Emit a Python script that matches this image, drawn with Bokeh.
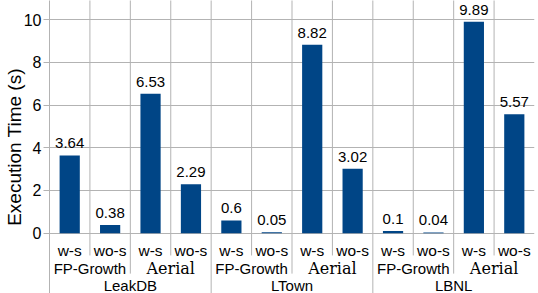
from bokeh.plotting import figure
from bokeh.models import FactorRange, Range1d, ColumnDataSource, FixedTicker
from bokeh.transform import dodge
from bokeh.core.properties import value
from bokeh.embed import file_html
from bokeh.resources import INLINE

datasets = ["LeakDB", "LTown", "LBNL"]
algorithms = ["FP-Growth", "Aerial"]
variants = ["w-s", "wo-s"]
times = [3.64, 0.38, 6.53, 2.29, 0.6, 0.05, 8.82, 3.02, 0.1, 0.04, 9.89, 5.57]
y_ticks = [0, 2, 4, 6, 8, 10]
y_label = "Execution Time (s)"

BAR = "#004586"
GRID = "#b3b3b3"
SANS = "Liberation Sans"

factors = [(d, a, v) for d in datasets for a in algorithms for v in variants]

x_range = FactorRange(*factors, factor_padding=0, subgroup_padding=0,
                      group_padding=0, range_padding=0)
Y_TOP, Y_BOT = 10.89, -2.82

p = figure(width=538, height=293, x_range=x_range, y_range=Range1d(Y_BOT, Y_TOP),
           output_backend="svg", toolbar_location=None, x_axis_location=None,
           min_border_top=0, min_border_bottom=0, min_border_right=4,
           min_border_left=0, outline_line_color=None, background_fill_color="white")

# y axis
ax = p.yaxis[0]
ax.ticker = FixedTicker(ticks=y_ticks)
ax.axis_line_color = GRID
ax.major_tick_line_color = GRID
ax.major_tick_out = 6
ax.major_tick_in = 0
ax.minor_tick_line_color = None
ax.major_label_text_font = SANS
ax.major_label_text_font_size = "16px"
ax.major_label_text_color = "black"
ax.major_label_standoff = 2
ax.axis_label = y_label
ax.axis_label_text_font = SANS
ax.axis_label_text_font_size = "19px"
ax.axis_label_text_font_style = "normal"
ax.axis_label_text_color = "black"
ax.axis_label_standoff = -4

p.ygrid.grid_line_color = GRID
p.ygrid.ticker = FixedTicker(ticks=y_ticks)
p.xgrid.grid_line_color = None

# separators / vertical grid lines between categories
W_S_DEPTH, ALG_DEPTH, DS_DEPTH = -1.04, -1.89, Y_BOT - 1
sep_x, sep_bottom = [], []
for i in range(len(factors) - 1):
    f0, f1 = factors[i], factors[i + 1]
    sep_x.append(f0)
    if f0[0] != f1[0]:
        sep_bottom.append(DS_DEPTH)
    elif f0[1] != f1[1]:
        sep_bottom.append(ALG_DEPTH)
    else:
        sep_bottom.append(W_S_DEPTH)
sep_src = ColumnDataSource(dict(x=sep_x, y0=[Y_TOP + 1] * len(sep_x), y1=sep_bottom))
p.segment(x0=dodge("x", 0.5, range=x_range), x1=dodge("x", 0.5, range=x_range),
          y0="y0", y1="y1", source=sep_src, line_color=GRID, line_width=1)

# bars
src = ColumnDataSource(dict(x=factors, v=times, lbl=[str(t) for t in times]))
p.vbar(x="x", top="v", width=0.5, source=src, fill_color=BAR, line_color=None)
p.text(x="x", y="v", text="lbl", source=src, text_align="center",
       text_baseline="alphabetic", y_offset=-12, text_font=value(SANS),
       text_font_size="15px", text_color="black")

# category labels
lvl3 = ColumnDataSource(dict(x=factors, t=[f[2] for f in factors]))
p.text(x="x", y=-0.81, text="t", source=lvl3, text_align="center",
       text_baseline="alphabetic", text_font=value(SANS), text_font_size="15.5px",
       text_color="black")

fp = [(d, "FP-Growth") for d in datasets]
ae = [(d, "Aerial") for d in datasets]
p.text(x="x", y=-1.67, text="t", source=ColumnDataSource(dict(x=fp, t=[a[1] for a in fp])),
       text_align="center", text_baseline="alphabetic", text_font=value(SANS),
       text_font_size="15px", text_color="black")
p.text(x="x", y=-1.67, text="t", source=ColumnDataSource(dict(x=ae, t=[a[1] for a in ae])),
       text_align="center", text_baseline="alphabetic", text_font=value("DejaVu Serif"),
       text_font_size="16px", text_color="black")

p.text(x="x", y=-2.43, text="t", source=ColumnDataSource(dict(x=datasets, t=datasets)),
       text_align="center", text_baseline="alphabetic", text_font=value(SANS),
       text_font_size="15px", text_color="black")

open("out.html", "w").write(file_html(p, INLINE))
